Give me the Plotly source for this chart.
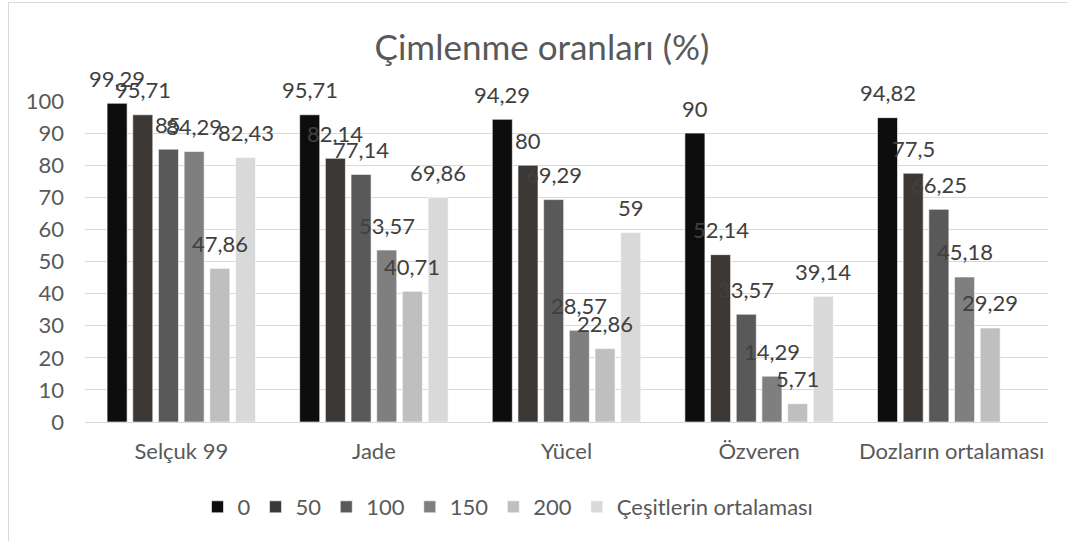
import plotly.graph_objects as go

categories = ["Selçuk 99", "Jade", "Yücel", "Özveren", "Dozların ortalaması"]
series_names = ["0", "50", "100", "150", "200", "Çeşitlerin ortalaması"]
s0 = [99.29, 95.71, 94.29, 90, 94.82]
s50 = [95.71, 82.14, 80, 52.14, 77.5]
s100 = [85, 77.14, 69.29, 33.57, 66.25]
s150 = [84.29, 53.57, 28.57, 14.29, 45.18]
s200 = [47.86, 40.71, 22.86, 5.71, 29.29]
s_avg = [82.43, 69.86, 59, 39.14, None]
series_values = [s0, s50, s100, s150, s200, s_avg]
colors = ["#0d0d0d", "#3b3836", "#595959", "#7f7f7f", "#bfbfbf", "#d9d9d9"]
y_ticks = [0, 10, 20, 30, 40, 50, 60, 70, 80, 90, 100]

W, H = 1068, 541
ML, MR, MT, MB = 85, 20, 101, 119
FONT = "Lato"
plot_w = W - ML - MR
bargap = 0.2
slot = plot_w / len(categories) * (1 - bargap) / len(series_names)

fig = go.Figure()
annotations = []
for i, (name, vals, col) in enumerate(zip(series_names, series_values, colors)):
    fig.add_trace(go.Bar(
        name=name, x=categories, y=vals,
        marker=dict(color=col, line=dict(color="rgba(255,255,255,0.6)", width=1)),
    ))
    for c, v in zip(categories, vals):
        if v is None:
            continue
        txt = f"{v:g}".replace(".", ",")
        annotations.append(dict(
            x=c, y=v, xref="x", yref="y", text=txt, showarrow=False,
            xshift=(i - (len(series_names) - 1) / 2) * slot, yshift=25,
            yanchor="middle", xanchor="center",
            font=dict(family=FONT, size=22, color="#404040"),
        ))

# chart-area border (extends beyond the cropped picture on right/bottom)
plot_h = H - MT - MB
shapes = [dict(
    type="rect", xref="paper", yref="paper",
    x0=(8.5 - ML) / plot_w, x1=(W + 20 - ML) / plot_w,
    y0=(H - MB - (H + 20)) / plot_h, y1=(H - MB - 2.5) / plot_h,
    line=dict(color="#d9d9d9", width=1), fillcolor="rgba(0,0,0,0)", layer="below",
)]

fig.update_layout(
    width=W, height=H,
    margin=dict(l=ML, r=MR, t=MT, b=MB),
    paper_bgcolor="white", plot_bgcolor="white",
    barmode="group", bargap=bargap, bargroupgap=0.22,
    title=dict(text="Çimlenme oranları (%)", x=542 / W, y=1 - 48 / H,
               xanchor="center", yanchor="middle",
               font=dict(family=FONT, size=35, color="#595959")),
    font=dict(family=FONT, size=22, color="#595959"),
    legend=dict(orientation="h", x=(508 - ML) / plot_w, xanchor="center",
                y=(H - MB - 507) / plot_h, yanchor="middle",
                font=dict(family=FONT, size=22, color="#595959"),
                itemwidth=30, bgcolor="rgba(0,0,0,0)"),
    annotations=annotations,
    shapes=shapes,
    xaxis=dict(showgrid=False, showline=True, linecolor="#d9d9d9", linewidth=1,
               ticks="", ticklabelstandoff=10,
               tickfont=dict(family=FONT, size=22, color="#595959")),
    yaxis=dict(range=[0, 100], tickvals=y_ticks, showgrid=True, gridcolor="#d9d9d9",
               gridwidth=1, zeroline=False, showline=False, ticks="",
               ticklabelstandoff=20,
               tickfont=dict(family=FONT, size=22, color="#595959")),
)

fig.write_html("out.html", config={"displayModeBar": False},
               post_script="document.body.style.margin='0';document.body.style.overflow='hidden';")
